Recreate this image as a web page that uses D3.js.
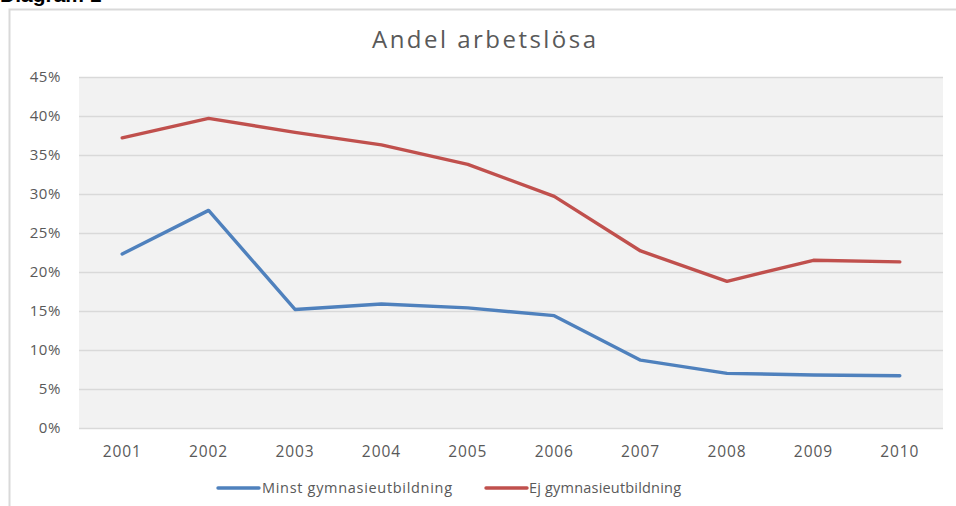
<!DOCTYPE html>
<html>
<head>
<meta charset="utf-8">
<script src="https://cdn.jsdelivr.net/npm/d3@7"></script>
<style>
  html, body { margin: 0; padding: 0; background: #fff; }
  svg { display: block; }
</style>
</head>
<body>
<svg width="956" height="506"></svg>
<script>
// data
const years = ['2001', '2002', '2003', '2004', '2005', '2006', '2007', '2008', '2009', '2010'];
const minstGymnasie = [22.3, 27.9, 15.2, 15.9, 15.4, 14.4, 8.7, 7.0, 6.8, 6.7];
const ejGymnasie = [37.2, 39.7, 37.9, 36.3, 33.8, 29.7, 22.7, 18.8, 21.5, 21.3];
const yTicks = [0, 5, 10, 15, 20, 25, 30, 35, 40, 45];

const series = [
  { name: 'Minst gymnasieutbildning', values: minstGymnasie, color: '#4f81bd' },
  { name: 'Ej gymnasieutbildning', values: ejGymnasie, color: '#c0504d' }
];

const svg = d3.select('svg');
const font = 'Open Sans, Lato, sans-serif';
const textColor = '#595959';

// "Diagram 1" caption, mostly cut off at the top
svg.append('text')
  .attr('x', 0)
  .attr('y', 2)
  .style('font-family', 'Liberation Sans, Arial, sans-serif')
  .style('font-weight', 'bold')
  .style('font-size', '21px')
  .attr('fill', '#000')
  .text('Diagram 1');

// chart frame
svg.append('rect')
  .attr('x', 9.5)
  .attr('y', 9.5)
  .attr('width', 960)
  .attr('height', 520)
  .attr('fill', '#fff')
  .attr('stroke', '#d9d9d9')
  .attr('stroke-width', 2);

const margin = { left: 79, right: 13, top: 77, bottom: 78 };
const width = 956 - margin.left - margin.right;
const height = 506 - margin.top - margin.bottom;

const x = d3.scaleBand().domain(years).range([0, width]);
const y = d3.scaleLinear().domain([0, 45]).range([height, 0]);

const g = svg.append('g').attr('transform', `translate(${margin.left},${margin.top})`);

g.append('rect')
  .attr('width', width)
  .attr('height', height)
  .attr('fill', '#f2f2f2');

// gridlines + y labels
const yAxis = g.append('g')
  .call(d3.axisLeft(y).tickValues(yTicks).tickSize(-width).tickFormat(d => d + '%'));
yAxis.select('.domain').remove();
yAxis.selectAll('.tick line').attr('stroke', '#d9d9d9').attr('stroke-width', 1.3);
yAxis.selectAll('.tick text')
  .attr('x', -18)
  .attr('fill', textColor)
  .style('font-family', font)
  .style('font-size', '15px')
  .style('letter-spacing', '0.6px');

// x labels
const xAxis = g.append('g')
  .attr('transform', `translate(0,${height})`)
  .call(d3.axisBottom(x).tickSize(0));
xAxis.select('.domain').remove();
xAxis.selectAll('.tick text')
  .attr('dy', '1.7em')
  .attr('fill', textColor)
  .style('font-family', font)
  .style('font-size', '15.5px')
  .style('letter-spacing', '0.9px');

const line = d3.line()
  .x((d, i) => x(years[i]) + x.bandwidth() / 2)
  .y(d => y(d));

g.selectAll('.serie')
  .data(series)
  .join('path')
  .attr('class', 'serie')
  .attr('d', d => line(d.values))
  .attr('fill', 'none')
  .attr('stroke', d => d.color)
  .attr('stroke-width', 3.4)
  .attr('stroke-linejoin', 'round')
  .attr('stroke-linecap', 'round');

// title
svg.append('text')
  .attr('x', 372)
  .attr('y', 48)
  .attr('textLength', 224)
  .attr('lengthAdjust', 'spacing')
  .attr('fill', textColor)
  .style('font-family', font)
  .style('font-size', '24px')
  .text('Andel arbetslösa');

// legend
const legendX = [218, 486];
const legendW = [190, 152];
const legend = svg.selectAll('.legend')
  .data(series)
  .join('g')
  .attr('class', 'legend')
  .attr('transform', (d, i) => `translate(${legendX[i]},488)`);

legend.append('line')
  .attr('x1', 0)
  .attr('x2', 41)
  .attr('stroke', d => d.color)
  .attr('stroke-width', 3.4)
  .attr('stroke-linecap', 'round');

legend.append('text')
  .attr('x', (d, i) => i === 0 ? 44 : 43)
  .attr('dy', '0.35em')
  .attr('textLength', (d, i) => legendW[i])
  .attr('lengthAdjust', 'spacing')
  .attr('fill', textColor)
  .style('font-family', font)
  .style('font-size', '14.5px')
  .text(d => d.name);
</script>
</body>
</html>
